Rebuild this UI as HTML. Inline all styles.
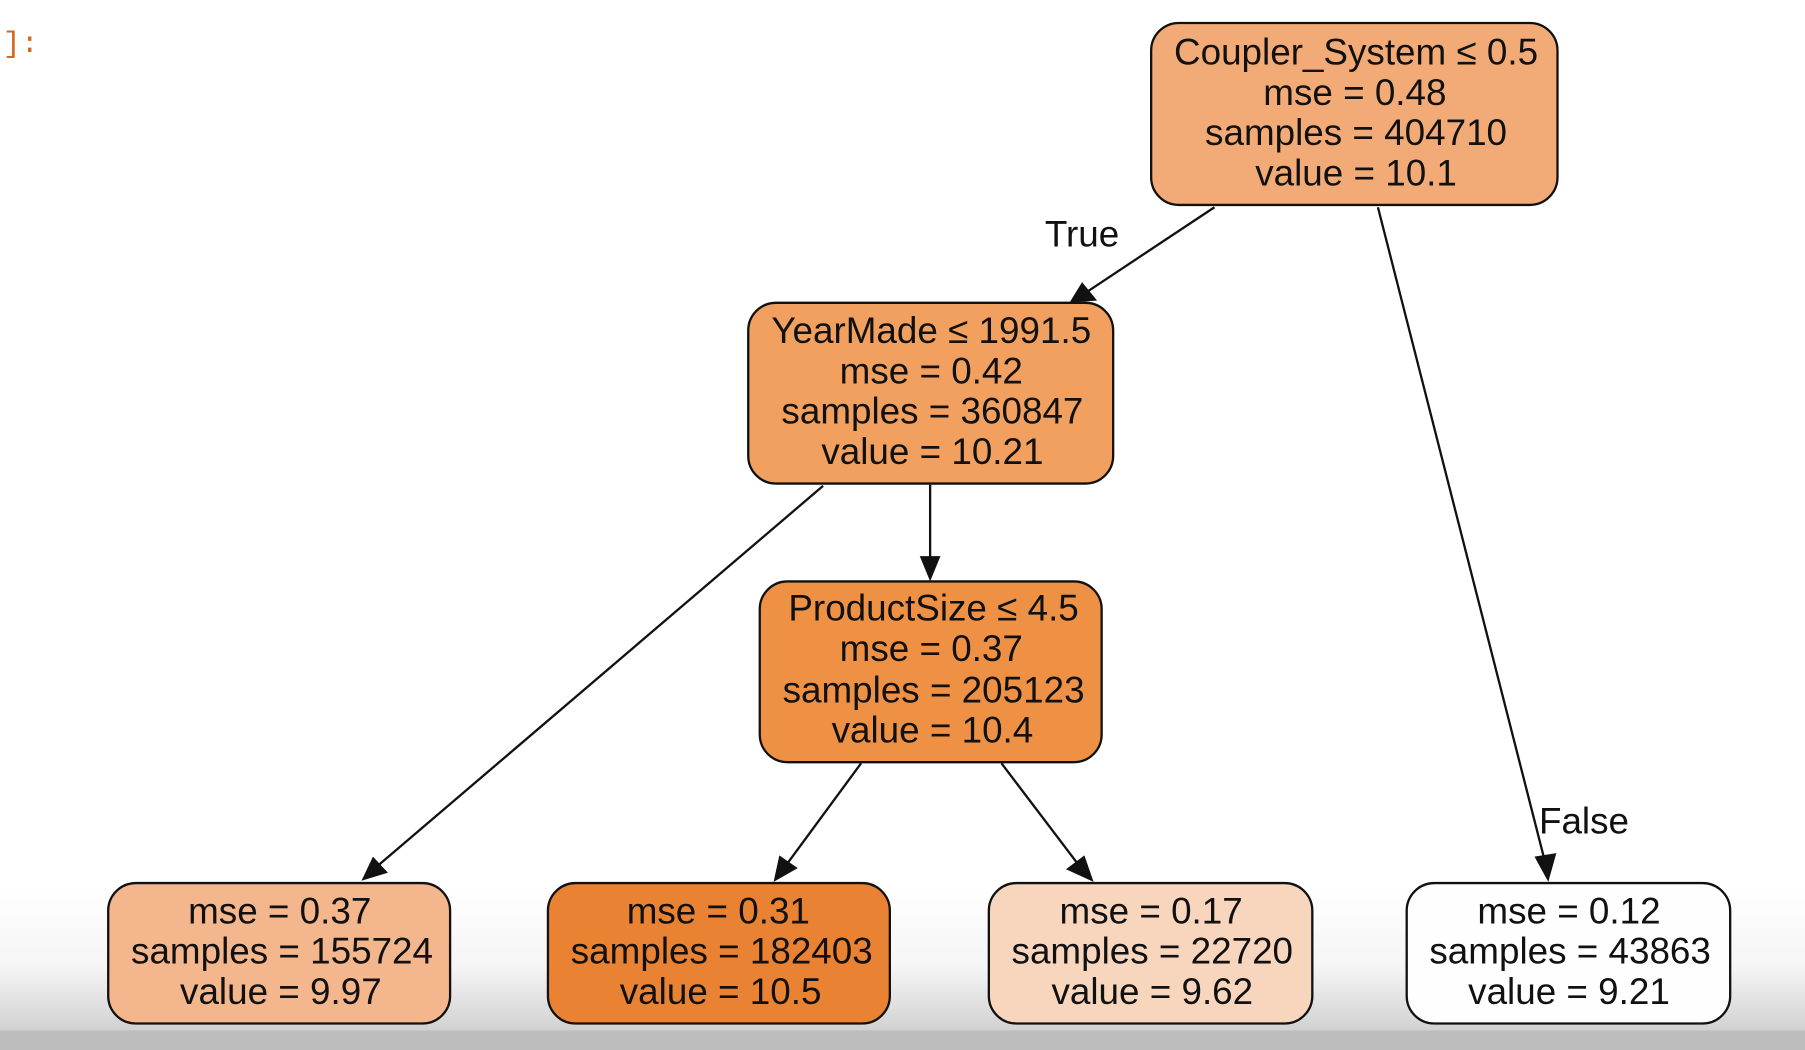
<!DOCTYPE html>
<html><head><meta charset="utf-8"><style>
html,body{margin:0;padding:0;background:#fff;overflow:hidden}
svg{display:block}
text{font-family:"Liberation Sans",Arial,sans-serif;font-size:32px;fill:#111;text-anchor:middle}
</style></head><body>
<svg width="1805" height="1050" viewBox="0 0 1568 912" preserveAspectRatio="none" xmlns="http://www.w3.org/2000/svg">
<defs>
<linearGradient id="bg" x1="0" y1="0" x2="0" y2="1">
<stop offset="0" stop-color="#ffffff"/>
<stop offset="0.55" stop-color="#f5f5f5"/>
<stop offset="1" stop-color="#d0d0d0"/>
</linearGradient>
</defs>
<rect x="0" y="0" width="1568" height="912" fill="#fff"/>
<rect x="0" y="770" width="1568" height="127" fill="url(#bg)"/>
<rect x="0" y="895" width="1568" height="17" fill="#bdbdbd"/>
<text x="18" y="45" style="fill:#d2691e;font-family:'Liberation Mono',monospace;font-size:26px">]:</text>

<g stroke="#111" stroke-width="2" fill="none">
<line x1="1055" y1="180" x2="945" y2="253"/>
<line x1="1197" y1="180" x2="1342" y2="748"/>
<line x1="808" y1="421" x2="808" y2="486"/>
<line x1="715" y1="422" x2="327" y2="753"/>
<line x1="748" y1="663" x2="684" y2="750"/>
<line x1="870" y1="663" x2="936" y2="750"/>
</g>
<g fill="#111">
<polygon points="929,263 940,245 953,261"/>
<polygon points="1345,766 1333,744 1352,741"/>
<polygon points="808,505 799,483 817,483"/>
<polygon points="314,765 324,744 337,758"/>
<polygon points="672,766 677,743 693,754"/>
<polygon points="950,766 926,755 942,743"/>
</g>

<g stroke="#111" stroke-width="2">
<rect x="1000" y="20" width="353" height="158" rx="24" fill="#f2ab76"/>
<rect x="650" y="263" width="317" height="157" rx="24" fill="#f1a05f"/>
<rect x="660" y="505" width="297" height="157" rx="24" fill="#ef9145"/>
<rect x="94" y="767" width="297" height="122" rx="24" fill="#f4b68c"/>
<rect x="476" y="767" width="297" height="122" rx="24" fill="#ea8233"/>
<rect x="859" y="767" width="281" height="122" rx="24" fill="#f8d6bd"/>
<rect x="1222" y="767" width="281" height="122" rx="24" fill="#fefefe"/>
</g>

<text x="1178" y="56">Coupler_System ≤ 0.5</text>
<text x="1177" y="91">mse = 0.48</text>
<text x="1178" y="126">samples = 404710</text>
<text x="1178" y="161">value = 10.1</text>

<text x="809" y="298">YearMade ≤ 1991.5</text>
<text x="809" y="333">mse = 0.42</text>
<text x="810" y="368">samples = 360847</text>
<text x="810" y="403">value = 10.21</text>

<text x="811" y="539">ProductSize ≤ 4.5</text>
<text x="809" y="574">mse = 0.37</text>
<text x="811" y="610">samples = 205123</text>
<text x="810" y="645">value = 10.4</text>

<text x="243" y="802">mse = 0.37</text>
<text x="245" y="837">samples = 155724</text>
<text x="244" y="872">value = 9.97</text>

<text x="624" y="802">mse = 0.31</text>
<text x="627" y="837">samples = 182403</text>
<text x="626" y="872">value = 10.5</text>

<text x="1000" y="802">mse = 0.17</text>
<text x="1001" y="837">samples = 22720</text>
<text x="1001" y="872">value = 9.62</text>

<text x="1363" y="802">mse = 0.12</text>
<text x="1364" y="837">samples = 43863</text>
<text x="1363" y="872">value = 9.21</text>

<text x="940" y="214">True</text>
<text x="1376" y="724">False</text>
</svg>
</body></html>
